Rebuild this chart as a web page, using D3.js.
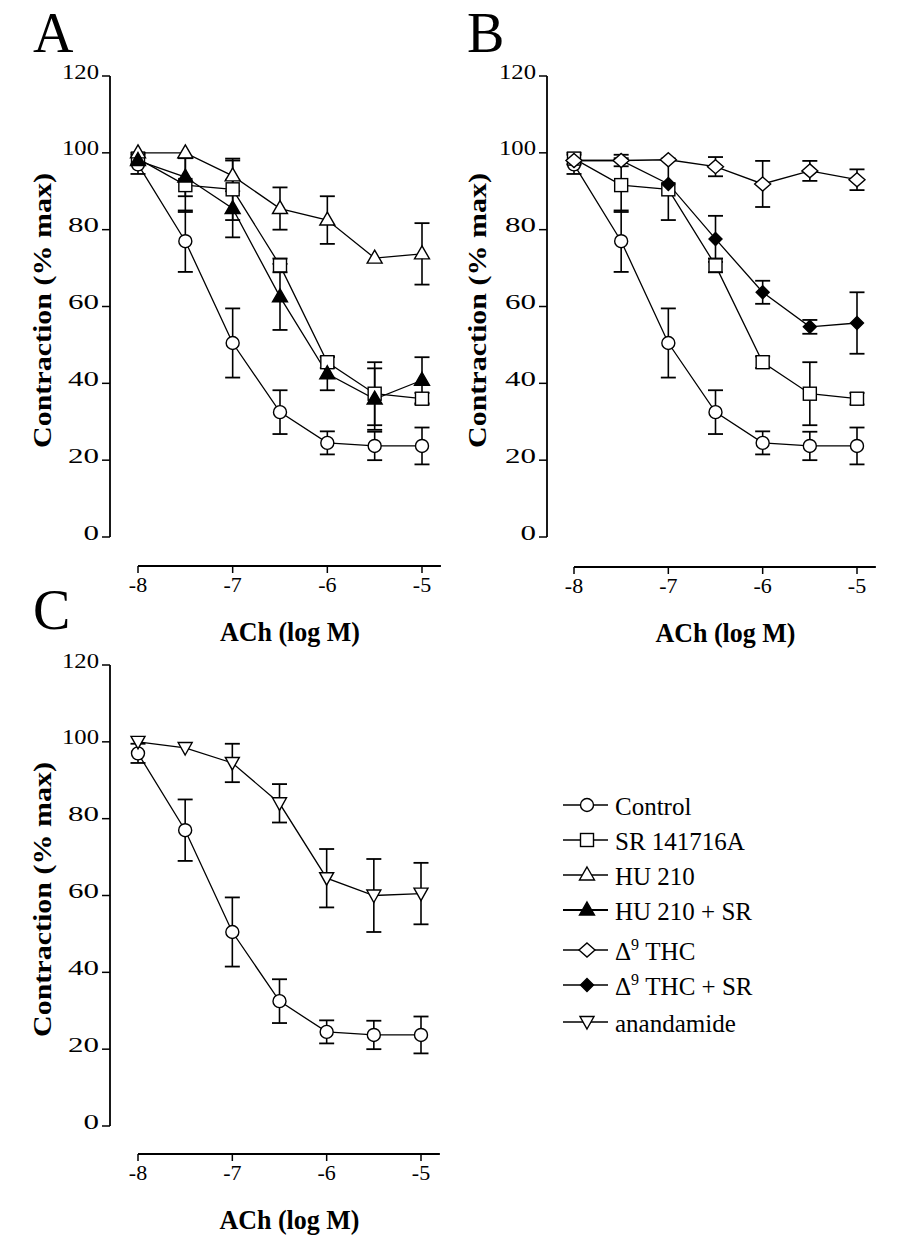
<!DOCTYPE html>
<html><head><meta charset="utf-8">
<script src="https://cdn.jsdelivr.net/npm/d3@7"></script>
<style>
body{margin:0;background:#fff}
text{font-family:"Liberation Serif","Times New Roman",serif;fill:#000}
</style>
</head><body>
<svg id="chart" width="900" height="1242"></svg>
<script>
// ---------- data ----------
const doses = [-8, -7.5, -7, -6.5, -6, -5.5, -5];
const xTickValues = [-8, -7, -6, -5];
const yTickValues = [0, 20, 40, 60, 80, 100, 120];

const control      = [97, 77, 50.5, 32.5, 24.5, 23.7, 23.7];
const controlErr   = [2.5, 8, 9, 5.7, 3, 3.7, 4.8];
const sr141716A    = [98.5, 91.6, 90.5, 70.7, 45.5, 37.3, 36];
const sr141716AErr = [1.5, 7, 8, 1.8, 1.5, 8.2, 1.5];
const hu210        = [100, 100, 94, 85.5, 82.5, 72.6, 73.7];
const hu210Err     = [0.5, 0.5, 4, 5.5, 6.2, 0.8, 8];
const hu210SR      = [98, 93.7, 85.5, 62.5, 42.5, 35.9, 40.8];
const hu210SRErr   = [1, 5, 7.5, 8.6, 4.3, 8, 6];
const thc          = [98, 98, 98.2, 96.4, 91.9, 95.3, 93];
const thcErr       = [1, 1, 1, 2.5, 6, 2.6, 2.7];
const thcSR        = [98, 98, 91.9, 77.6, 63.7, 54.7, 55.7];
const thcSRErr     = [1, 1.5, 1, 6, 3, 1.8, 8];
const anandamide   = [100, 98.4, 94.5, 84, 64.5, 60, 60.5];
const anandamideErr= [1, 0.5, 5, 5, 7.6, 9.5, 8];

const legendLabels = ["Control", "SR 141716A", "HU 210", "HU 210 + SR", "Δ9 THC", "Δ9 THC + SR", "anandamide"];
const xLabel = "ACh (log M)";
const yLabel = "Contraction (% max)";
const panelLetters = ["A", "B", "C"];

// ---------- series definitions ----------
const S = {
  control:   {shape: "circle",   values: control,    errors: controlErr},
  sr:        {shape: "square",   values: sr141716A,  errors: sr141716AErr},
  hu:        {shape: "triOpen",  values: hu210,      errors: hu210Err},
  huSR:      {shape: "triFill",  values: hu210SR,    errors: hu210SRErr},
  thc:       {shape: "diaOpen",  values: thc,        errors: thcErr},
  thcSR:     {shape: "diaFill",  values: thcSR,      errors: thcSRErr},
  anand:     {shape: "triDown",  values: anandamide, errors: anandamideErr}
};
const legendShapes = ["circle", "square", "triOpen", "triFill", "diaOpen", "diaFill", "triDown"];

const svg = d3.select("#chart");
svg.append("rect").attr("width", 900).attr("height", 1242).attr("fill", "#fff");

function drawMarker(g, shape, x, y) {
  const sw = 1.4;
  if (shape === "circle") {
    g.append("circle").attr("cx", x).attr("cy", y).attr("r", 6.5)
      .attr("fill", "#fff").attr("stroke", "#000").attr("stroke-width", sw);
    return;
  }
  if (shape === "square") {
    g.append("rect").attr("x", x - 6.5).attr("y", y - 6.5).attr("width", 13).attr("height", 13)
      .attr("fill", "#fff").attr("stroke", "#000").attr("stroke-width", sw);
    return;
  }
  let pts, fill = "#fff";
  if (shape === "triOpen" || shape === "triFill") {
    pts = [[0, -8], [7.5, 5], [-7.5, 5]];
    if (shape === "triFill") fill = "#000";
  } else if (shape === "diaOpen") {
    pts = [[0, -7], [8, 0], [0, 7], [-8, 0]];
  } else if (shape === "diaFill") {
    pts = [[0, -6.5], [6.5, 0], [0, 6.5], [-6.5, 0]];
    fill = "#000";
  } else if (shape === "triDown") {
    pts = [[0, 7], [7, -5.5], [-7, -5.5]];
  }
  g.append("path").attr("d", "M" + pts.map(p => (x + p[0]) + "," + (y + p[1])).join("L") + "Z")
    .attr("fill", fill).attr("stroke", "#000").attr("stroke-width", sw).attr("stroke-linejoin", "miter");
}

function yTickWidth(s) {
  let w = 0;
  for (const c of s) w += (c === "1") ? 6 : 15.5;
  return w;
}

function drawPanel(cfg) {
  const g = svg.append("g");
  const x = d3.scaleLinear().domain([-8, -5]).range(cfg.xr);
  const y = d3.scaleLinear().domain([0, 120]).range(cfg.yr);

  // y axis
  g.append("line").attr("x1", cfg.axisX).attr("x2", cfg.axisX)
    .attr("y1", y(120)).attr("y2", y(0)).attr("stroke", "#000").attr("stroke-width", 1.8);
  yTickValues.forEach(v => {
    g.append("line").attr("x1", cfg.axisX - 8).attr("x2", cfg.axisX)
      .attr("y1", y(v)).attr("y2", y(v)).attr("stroke", "#000").attr("stroke-width", 1.5);
    const s = String(v);
    g.append("text").attr("x", cfg.axisX - 11).attr("y", y(v) + 2.5)
      .attr("text-anchor", "end").attr("font-size", 20)
      .attr("textLength", yTickWidth(s)).attr("lengthAdjust", "spacingAndGlyphs")
      .text(s);
  });

  // x axis (offset)
  g.append("line").attr("x1", x(-8)).attr("x2", x(-4.8))
    .attr("y1", cfg.xAxisY).attr("y2", cfg.xAxisY).attr("stroke", "#000").attr("stroke-width", 1.8);
  xTickValues.forEach(v => {
    g.append("line").attr("x1", x(v)).attr("x2", x(v))
      .attr("y1", cfg.xAxisY).attr("y2", cfg.xAxisY + 7).attr("stroke", "#000").attr("stroke-width", 1.5);
    g.append("text").attr("x", x(v)).attr("y", cfg.xAxisY + 26)
      .attr("text-anchor", "middle").attr("font-size", 22).text(String(v));
  });

  // axis titles
  g.append("text").attr("x", (x(-8) + x(-5)) / 2 + 10).attr("y", cfg.xAxisY + 75)
    .attr("text-anchor", "middle").attr("font-size", 27).attr("font-weight", "bold")
    .attr("textLength", 140).attr("lengthAdjust", "spacingAndGlyphs").text(xLabel);
  const ymid = (y(0) + y(120)) / 2 + 4;
  g.append("text").attr("transform", `translate(${cfg.ylabX},${ymid}) rotate(-90)`)
    .attr("text-anchor", "middle").attr("font-size", 25).attr("font-weight", "bold")
    .attr("textLength", 275).attr("lengthAdjust", "spacingAndGlyphs").text(yLabel);

  // panel letter
  g.append("text").attr("x", cfg.letterX).attr("y", cfg.letterY)
    .attr("font-size", 56).text(cfg.letter);

  // error bars
  cfg.series.forEach(key => {
    const s = S[key];
    s.values.forEach((v, i) => {
      const e = s.errors[i];
      if (e < 1.2) return;
      const cx = x(doses[i]);
      g.append("line").attr("x1", cx).attr("x2", cx).attr("y1", y(v - e)).attr("y2", y(v + e))
        .attr("stroke", "#000").attr("stroke-width", 1.6);
      [v - e, v + e].forEach(b => {
        g.append("line").attr("x1", cx - 7.5).attr("x2", cx + 7.5).attr("y1", y(b)).attr("y2", y(b))
          .attr("stroke", "#000").attr("stroke-width", 1.8);
      });
    });
  });

  // lines
  const line = d3.line().x((d, i) => x(doses[i])).y(d => y(d));
  cfg.series.forEach(key => {
    g.append("path").attr("d", line(S[key].values)).attr("fill", "none")
      .attr("stroke", "#000").attr("stroke-width", 1.3);
  });

  // markers
  cfg.series.forEach(key => {
    const s = S[key];
    s.values.forEach((v, i) => drawMarker(g, s.shape, x(doses[i]), y(v)));
  });
}

drawPanel({letter: panelLetters[0], letterX: 33, letterY: 52, axisX: 110, xr: [138, 422], yr: [537, 76],
  xAxisY: 566, ylabX: 51, series: ["control", "sr", "hu", "huSR"]});
drawPanel({letter: panelLetters[1], letterX: 467, letterY: 52, axisX: 547, xr: [574, 857], yr: [537, 76],
  xAxisY: 567, ylabX: 486, series: ["control", "sr", "thcSR", "thc"]});
drawPanel({letter: panelLetters[2], letterX: 33, letterY: 629, axisX: 110, xr: [138, 421], yr: [1126, 665],
  xAxisY: 1154, ylabX: 51, series: ["control", "anand"]});

// ---------- legend ----------
const legBaselines = [815, 850, 885, 920, 960, 995, 1032];
const lg = svg.append("g");
legendLabels.forEach((lab, i) => {
  const by = legBaselines[i];
  const cy = by - 10;
  lg.append("line").attr("x1", 563).attr("x2", 608).attr("y1", cy).attr("y2", cy)
    .attr("stroke", "#000").attr("stroke-width", legendShapes[i] === "triFill" ? 2.2 : 1.4);
  drawMarker(lg, legendShapes[i], 587, cy);
  const t = lg.append("text").attr("x", 615).attr("y", by).attr("font-size", 25);
  if (lab.startsWith("Δ9")) {
    t.append("tspan").text("Δ");
    t.append("tspan").attr("font-size", 16).attr("dy", -10).text("9");
    t.append("tspan").attr("dy", 10).text(lab.slice(2));
  } else {
    t.text(lab);
  }
});
</script>
</body></html>
